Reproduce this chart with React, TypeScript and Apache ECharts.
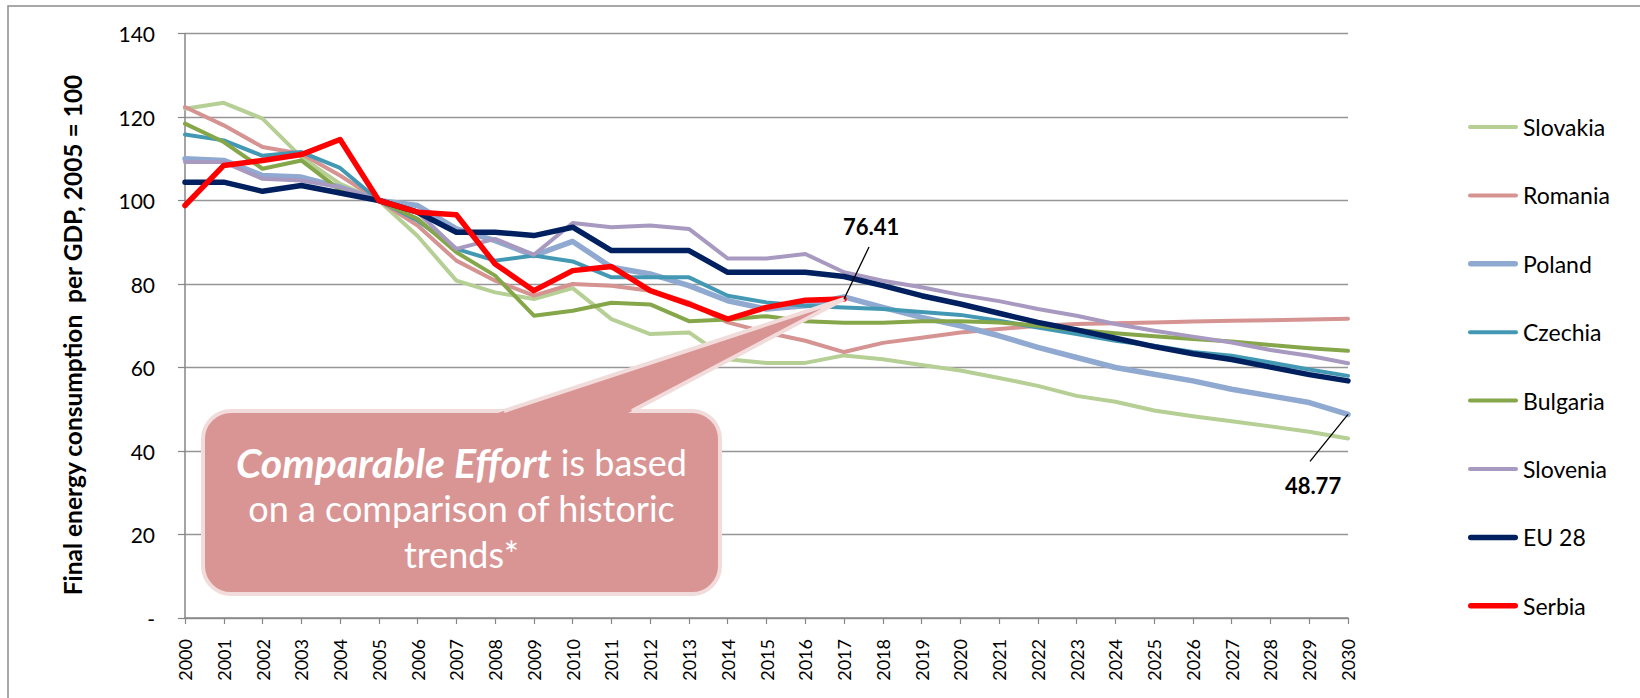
import React, { useEffect, useRef } from "react";
import * as echarts from "echarts";

const years = [
  "2000", "2001", "2002", "2003", "2004", "2005", "2006", "2007", "2008", "2009",
  "2010", "2011", "2012", "2013", "2014", "2015", "2016", "2017", "2018", "2019",
  "2020", "2021", "2022", "2023", "2024", "2025", "2026", "2027", "2028", "2029", "2030",
];

const slovakia = [122, 123.4, 119.6, 110.4, 104, 100, 91.5, 80.8, 78, 76.4, 79, 71.6, 68, 68.4, 62, 61.1, 61.1, 62.9, 62, 60.6, 59.3, 57.5, 55.6, 53.2, 51.8, 49.7, 48.3, 47.1, 45.9, 44.6, 43.0];
const romania = [122.4, 118, 112.8, 111.2, 106, 100, 94, 85.6, 80.8, 77.2, 80, 79.6, 78.4, 75.6, 70.8, 68.4, 66.4, 63.7, 65.9, 67.1, 68.4, 69.2, 70, 70.4, 70.6, 70.8, 71, 71.2, 71.3, 71.5, 71.7];
const poland = [110, 109.6, 106, 105.6, 103.2, 100, 98.8, 93.2, 90.4, 86.8, 90.2, 84, 82.4, 79.6, 76, 74, 74.8, 76.9, 74.4, 72, 70, 67.6, 64.8, 62.4, 60, 58.4, 56.8, 54.8, 53.2, 51.6, 48.77];
const czechia = [115.8, 114.4, 110.7, 111.6, 107.8, 100, 95.2, 88.4, 85.6, 86.8, 85.4, 81.6, 81.6, 81.6, 77.2, 75.6, 74.8, 74.4, 74, 73.3, 72.6, 71.2, 69.6, 68, 66.4, 65.2, 63.7, 62.8, 61.2, 59.5, 58];
const bulgaria = [118.4, 114, 107.6, 109.6, 102.5, 100, 95.6, 87.6, 82, 72.4, 73.6, 75.5, 75.1, 71.1, 71.5, 72.3, 71.1, 70.7, 70.7, 71.1, 71.1, 70.8, 70, 69, 68.2, 67.5, 66.8, 66.2, 65.4, 64.6, 64];
const slovenia = [109.2, 109.2, 105.2, 104.8, 103.2, 100, 97.2, 88.4, 90.8, 87, 94.6, 93.6, 94, 93.2, 86.1, 86.1, 87.2, 82.8, 80.8, 79.2, 77.4, 75.9, 74, 72.4, 70.4, 68.8, 67.4, 66, 64.2, 62.8, 61];
const eu28 = [104.4, 104.4, 102.2, 103.6, 101.8, 100, 97.2, 92.4, 92.4, 91.6, 93.6, 88, 88, 88, 82.8, 82.8, 82.8, 81.8, 79.6, 77.2, 75.2, 73, 70.8, 69, 67, 65, 63.3, 61.9, 60.1, 58.3, 56.8];
const serbia = [98.8, 108.4, 109.6, 111, 114.6, 100, 97.2, 96.6, 84.8, 78.4, 83.2, 84.2, 78.4, 75.2, 71.6, 74.4, 76.1, 76.41, null, null, null, null, null, null, null, null, null, null, null, null, null];

const yTicks = [0, 20, 40, 60, 80, 100, 120, 140];

const FONT = "Lato, 'Open Sans', sans-serif";

const seriesDefs = [
  { name: "Slovakia", data: slovakia, color: "#B6CF95", width: 4 },
  { name: "Romania", data: romania, color: "#D59392", width: 4 },
  { name: "Poland", data: poland, color: "#8FA9D1", width: 5.5 },
  { name: "Czechia", data: czechia, color: "#4399B4", width: 4 },
  { name: "Bulgaria", data: bulgaria, color: "#86A64A", width: 4 },
  { name: "Slovenia", data: slovenia, color: "#A899C0", width: 4 },
  { name: "EU 28", data: eu28, color: "#002060", width: 5.5 },
  { name: "Serbia", data: serbia, color: "#FF0000", width: 5.5 },
];

// rounded bar path used as legend line icon, thickness t, length 50
const barIcon = (t: number) => {
  const r = t / 2;
  return `path://M${r},0 h${50 - t} a${r},${r} 0 0 1 0,${t} h${-(50 - t)} a${r},${r} 0 0 1 0,${-t} z`;
};

export default function App() {
  const ref = useRef<HTMLDivElement>(null);

  useEffect(() => {
    if (!ref.current) return;
    const chart = echarts.init(ref.current, undefined, { renderer: "svg" });
    const axisColor = "#868686";

    const baseOption: any = {
      animation: false,
      backgroundColor: "#ffffff",
      textStyle: { fontFamily: FONT },
      grid: { left: 185, right: 292, top: 33.5, bottom: 80, containLabel: false },
      legend: {
        orient: "vertical",
        left: 1463,
        top: 110,
        itemWidth: 50,
        itemHeight: 24,
        itemGap: 44.4,
        symbolKeepAspect: true,
        textStyle: { fontSize: 23, lineHeight: 24, color: "#000", fontFamily: FONT },
        data: seriesDefs.map((s) => ({ name: s.name, icon: barIcon(s.width) })),
      },
      xAxis: {
        type: "category",
        data: years,
        boundaryGap: false,
        axisLine: { show: true, lineStyle: { color: axisColor, width: 1.5 } },
        axisTick: { show: true, length: 6, interval: 0, lineStyle: { color: axisColor, width: 1.2 } },
        axisLabel: { rotate: 90, interval: 0, fontSize: 18, margin: 21, color: "#000", fontFamily: FONT },
        splitLine: { show: false },
      },
      yAxis: {
        type: "value",
        min: yTicks[0],
        max: yTicks[yTicks.length - 1],
        interval: 20,
        axisLine: { show: true, lineStyle: { color: axisColor, width: 1.5 } },
        axisTick: { show: true, length: 7, lineStyle: { color: axisColor, width: 1.2 } },
        axisLabel: {
          fontSize: 21,
          margin: 30,
          color: "#000",
          fontFamily: FONT,
          formatter: (v: number) => (v === 0 ? "-" : String(v)),
        },
        splitLine: { show: true, lineStyle: { color: "#969696", width: 1.3 } },
      },
      series: seriesDefs.map((s) => ({
        name: s.name,
        type: "line",
        data: s.data,
        symbol: "none",
        connectNulls: false,
        lineStyle: { color: s.color, width: s.width, cap: "round", join: "round" },
        itemStyle: { color: s.color },
        emphasis: { disabled: true },
      })),
    };
    chart.setOption(baseOption);

    const serbiaIdx = 17;
    const tip = chart.convertToPixel({ gridIndex: 0 }, [years[serbiaIdx], serbia[serbiaIdx] as number]) as number[];
    const polIdx = poland.length - 1;
    const polPt = chart.convertToPixel({ gridIndex: 0 }, [years[polIdx], poland[polIdx]]) as number[];

    const box = { x: 203, y: 411, w: 517, h: 183, r: 28 };
    const BL = [504, box.y];
    const BR = [632, box.y];
    const ext = (B: number[]) => {
      const t = 7 / (B[1] - tip[1]);
      return [B[0] + (B[0] - tip[0]) * t, B[1] + (B[1] - tip[1]) * t];
    };
    const calloutFill = "#D99594";
    const calloutStroke = "#F2DCDB";

    chart.setOption({
      graphic: [
        {
          type: "rect",
          silent: true,
          z: -10,
          shape: { x: 8, y: 6, width: 1700, height: 800 },
          style: { fill: "none", stroke: "#8c8c8c", lineWidth: 1.5 },
        },
        {
          type: "text",
          silent: true,
          x: 72,
          y: 335,
          rotation: Math.PI / 2,
          style: {
            text: "Final energy consumption  per GDP, 2005 = 100",
            fontFamily: FONT,
            fontWeight: "bold",
            fontSize: 24.5,
            fill: "#000",
            align: "center",
            verticalAlign: "middle",
          },
        },
        {
          type: "rect",
          silent: true,
          z: 100,
          shape: { x: box.x, y: box.y, width: box.w, height: box.h, r: box.r },
          style: { fill: calloutFill, stroke: calloutStroke, lineWidth: 4 },
        },
        {
          type: "polygon",
          silent: true,
          z: 101,
          shape: { points: [ext(BL), tip, ext(BR)] },
          style: { fill: calloutFill },
        },
        {
          type: "polyline",
          silent: true,
          z: 102,
          shape: { points: [BL, tip, BR] },
          style: { fill: null, stroke: calloutStroke, lineWidth: 4, lineJoin: "miter" },
        },
        {
          type: "text",
          silent: true,
          z: 103,
          x: box.x + box.w / 2,
          y: 508,
          style: {
            text: "{b|Comparable Effort} is based\non a comparison of historic\ntrends*",
            fontFamily: FONT,
            fontSize: 36,
            lineHeight: 46,
            fill: "#ffffff",
            align: "center",
            verticalAlign: "middle",
            rich: {
              b: {
                fontFamily: FONT,
                fontSize: 41,
                lineHeight: 46,
                fontStyle: "italic",
                fontWeight: "bold",
                fill: "#ffffff",
              },
            },
          },
        },
        {
          type: "line",
          silent: true,
          z: 110,
          shape: { x1: tip[0] + 25, y1: tip[1] - 52, x2: tip[0], y2: tip[1] },
          style: { stroke: "#000", lineWidth: 1.3 },
        },
        {
          type: "text",
          silent: true,
          z: 110,
          x: tip[0] + 27,
          y: tip[1] - 72,
          style: {
            text: (serbia[serbiaIdx] as number).toFixed(2),
            fontFamily: FONT,
            fontWeight: "bold",
            fontSize: 22,
            fill: "#000",
            align: "center",
            verticalAlign: "middle",
          },
        },
        {
          type: "line",
          silent: true,
          z: 110,
          shape: { x1: polPt[0] - 38, y1: polPt[1] + 47, x2: polPt[0], y2: polPt[1] },
          style: { stroke: "#000", lineWidth: 1.3 },
        },
        {
          type: "text",
          silent: true,
          z: 110,
          x: polPt[0] - 35,
          y: polPt[1] + 71,
          style: {
            text: poland[polIdx].toFixed(2),
            fontFamily: FONT,
            fontWeight: "bold",
            fontSize: 22,
            fill: "#000",
            align: "center",
            verticalAlign: "middle",
          },
        },
      ],
    });

    return () => chart.dispose();
  }, []);

  return (
    <div
      ref={ref}
      style={{ position: "fixed", left: 0, top: 0, width: 1640, height: 698, background: "#fff" }}
    />
  );
}
